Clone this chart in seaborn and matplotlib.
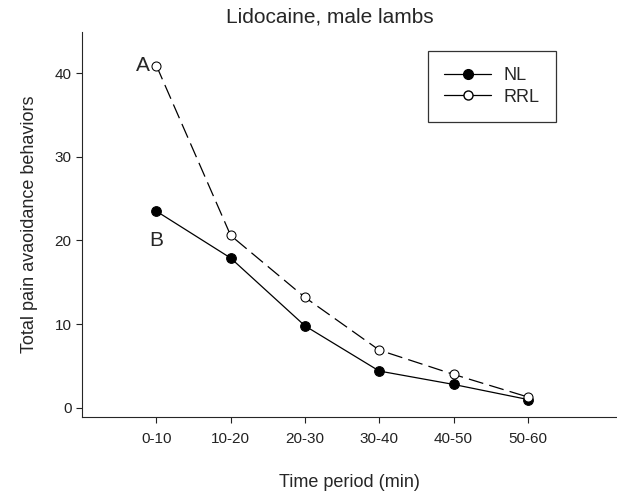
import pandas as pd
import seaborn as sns
import matplotlib.pyplot as plt
from matplotlib.lines import Line2D

periods = ['0-10', '10-20', '20-30', '30-40', '40-50', '50-60']
nl = [23.5, 17.9, 9.8, 4.4, 2.8, 1.0]
rrl = [40.9, 20.6, 13.2, 6.9, 4.0, 1.3]

df = pd.DataFrame({'period': periods * 2,
                   'value': nl + rrl,
                   'group': ['NL'] * 6 + ['RRL'] * 6})

sns.set_style("ticks")
plt.rcParams['font.family'] = ['Liberation Sans', 'DejaVu Sans']

fig = plt.figure(figsize=(6.17, 4.93), dpi=100)
ax = fig.add_axes([0.133, 0.154, 0.867, 0.781])

sns.lineplot(data=df[df.group == 'NL'], x='period', y='value', ax=ax, color='black',
             lw=0.9, marker='o', markersize=7, markerfacecolor='black',
             markeredgecolor='black', sort=False)
sns.lineplot(data=df[df.group == 'RRL'], x='period', y='value', ax=ax, color='black',
             lw=0.9, marker='o', markersize=6.5, markerfacecolor='white',
             markeredgecolor='black', sort=False, dashes=False, linestyle=(0, (12, 5)))

ax.set_xlim(-1, 6.2)
ax.set_ylim(-1.1, 44.9)
ax.set_yticks([0, 10, 20, 30, 40])
sns.despine(ax=ax)
ax.tick_params(labelsize=11, colors='#222222', length=4)
ax.tick_params(axis='x', pad=7)
ax.set_xlabel('Time period (min)', fontsize=13, labelpad=20)
ax.set_ylabel('Total pain avaoidance behaviors', fontsize=13, labelpad=12)

ax.text(-0.18, 40.9, 'A', fontsize=15, ha='center', va='center')
ax.text(0.0, 20.0, 'B', fontsize=15, ha='center', va='center')

fig.text(330 / 617, 1 - 17 / 493, 'Lidocaine, male lambs', fontsize=15,
         ha='center', va='center')

handles = [Line2D([], [], color='black', lw=0.9, marker='o', markersize=7,
                  markerfacecolor='black'),
           Line2D([], [], color='black', lw=0.9, marker='o', markersize=6.5,
                  markerfacecolor='white')]
leg = ax.legend(handles, ['NL', 'RRL'], loc='upper left',
                bbox_to_anchor=(0.647, 0.951), fontsize=13, frameon=True,
                fancybox=False, borderpad=0.9, handlelength=2.6,
                labelspacing=0.25, handletextpad=0.7, borderaxespad=0)
leg.get_frame().set_edgecolor('black')
leg.get_frame().set_linewidth(0.9)

fig.savefig('out.png', dpi=100)
